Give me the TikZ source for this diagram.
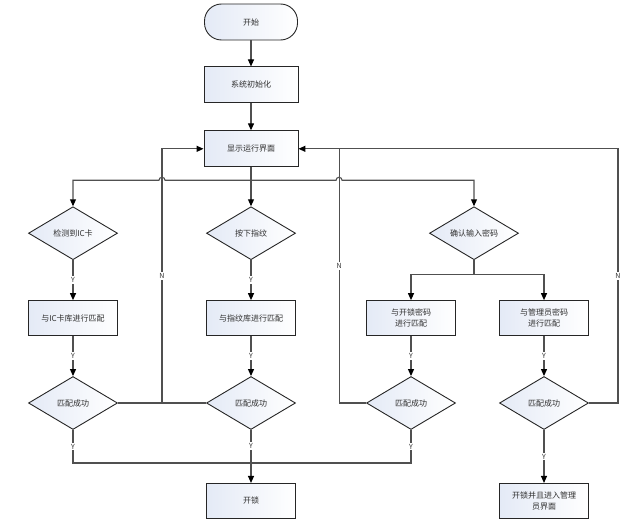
\documentclass[tikz,border=0pt]{standalone}
\usepackage{fontspec}
\setmainfont{Noto Sans CJK SC}
\usepackage{xcolor}
\usepackage{tikz}
\usetikzlibrary{shapes.geometric, arrows.meta, positioning, calc}
\definecolor{cFill}{HTML}{E4EAF6}
\definecolor{cLine}{HTML}{505050}
\definecolor{cText}{HTML}{303030}
\tikzstyle{term}  = [rectangle, rounded corners=17pt, draw=black!85, line width=0.9pt, left color=cFill, right color=white, minimum width=93pt, minimum height=36pt, text=cText, font=\fontsize{8}{10}\selectfont]
\tikzstyle{proc}  = [rectangle, draw=black!85, line width=0.9pt, left color=cFill, right color=white, minimum width=89pt, minimum height=35pt, align=center, inner sep=1pt, text=cText, font=\fontsize{8}{11}\selectfont]
\tikzstyle{main}  = [minimum width=94pt, minimum height=36pt]
\tikzstyle{dec}   = [diamond, aspect=1.7, draw=black!85, line width=0.9pt, left color=cFill, right color=white, minimum width=89pt, minimum height=53pt, inner sep=0pt, text=cText, font=\fontsize{8}{10}\selectfont]
\tikzstyle{line}  = [line width=1.1pt, draw=cLine]
\tikzstyle{arrow} = [line width=1.1pt, draw=cLine, -{Triangle[length=7pt,width=6pt,color=black]}]
\tikzstyle{lab}   = [fill=white, inner sep=1.2pt, text=black!80, font=\fontsize{7}{8}\selectfont]

\begin{document}
\begin{tikzpicture}[x=1pt, y=-1pt, node distance=40pt]
\useasboundingbox (0,0) rectangle (637,519);
\node (start) [term] at (251,22) {开始};
\node (init) [proc, main, below=26pt of start] {系统初始化};
\node (disp) [proc, main, below=27pt of init] {显示运行界面};
\node (card) [dec, below=39pt of disp, xshift=-178pt] {检测到IC卡};
\node (finger) [dec, below=39pt of disp] {按下指纹};
\node (pwd) [dec, below=39pt of disp, xshift=223pt] {确认输入密码};
\node (mCard) [proc, below=of card] {与IC卡库进行匹配};
\node (mFinger) [proc, below=of finger] {与指纹库进行匹配};
\node (mOpen) [proc, below=of pwd, xshift=-63pt] {与开锁密码\\进行匹配};
\node (mAdmin) [proc, below=of pwd, xshift=70pt] {与管理员密码\\进行匹配};
\node (okCard) [dec, below=of mCard] {匹配成功};
\node (okFinger) [dec, below=of mFinger] {匹配成功};
\node (okOpen) [dec, below=of mOpen] {匹配成功};
\node (okAdmin) [dec, below=of mAdmin] {匹配成功};
\node (unlock) [proc, below=53pt of okFinger] {开锁};
\node (admin) [proc, below=53pt of okAdmin] {开锁并且进入管理\\员界面};

% helper points
\coordinate (split) at ([yshift=-13pt]disp.south);
\coordinate (fork) at ([yshift=-14pt]pwd.south);
\coordinate (join) at ([yshift=-33pt]okFinger.south);
\coordinate (jl) at ($(okCard.east)!0.5!(okFinger.west)$);
\coordinate (jr) at ([xshift=-27pt]okOpen.west);
\coordinate (jf) at ([xshift=29pt]okAdmin.east);

\draw [arrow] (start) -- (init);
\draw [arrow] (init) -- (disp);
\draw [arrow] (disp) -- (finger);
\draw [arrow] (split) -- ($(jl |- split)+(3pt,0)$) arc[start angle=0, end angle=180, radius=3pt] -| (card);
\draw [arrow] (split) -- ($(jr |- split)+(-3pt,0)$) arc[start angle=180, end angle=0, radius=3pt] -| (pwd);

\draw [arrow] (card) -- node[lab]{Y} (mCard);
\draw [arrow] (finger) -- node[lab]{Y} (mFinger);
\draw [line] (pwd) -- (fork);
\draw [arrow] (fork) -| (mOpen);
\draw [arrow] (fork) -| (mAdmin);

\draw [arrow] (mCard) -- node[lab]{Y} (okCard);
\draw [arrow] (mFinger) -- node[lab]{Y} (okFinger);
\draw [arrow] (mOpen) -- node[lab]{Y} (okOpen);
\draw [arrow] (mAdmin) -- node[lab]{Y} (okAdmin);

% back to the main screen
\draw [line] (okCard.east) -- (okCard.east -| jl);
\draw [arrow] (okFinger.west) -- (okFinger.west -| jl) -- node[lab]{N} (jl |- disp) -- (disp.west);
\draw [arrow] (okOpen.west) -- (okOpen.west -| jr) -- node[lab, pos=0.54]{N} (jr |- disp) -- (disp.east);
\draw [line] (okAdmin.east) -- (okAdmin.east -| jf) -- node[lab]{N} (jf |- disp) -- (jr |- disp);

\draw [line] (okCard.south) -- node[lab]{Y} (okCard.south |- join) -- (okOpen.south |- join) -- node[lab]{Y} (okOpen.south);
\draw [arrow] (okFinger) -- node[lab, pos=0.3]{Y} (unlock);
\draw [arrow] (okAdmin) -- node[lab]{Y} (admin);
\end{tikzpicture}
\end{document}
